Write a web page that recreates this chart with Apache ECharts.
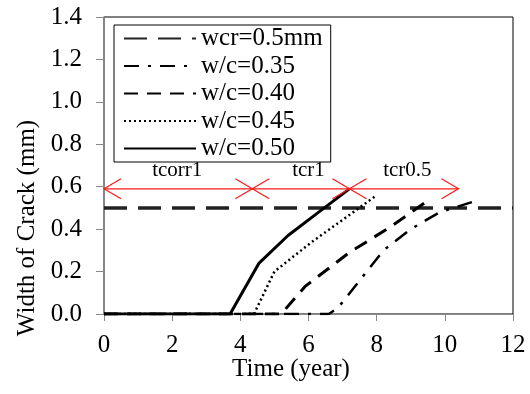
<!DOCTYPE html>
<html>
<head>
<meta charset="utf-8">
<script src="https://cdn.jsdelivr.net/npm/echarts@6/dist/echarts.min.js"></script>
<style>
  html, body { margin: 0; padding: 0; background: #fff; }
  #chart { width: 530px; height: 394px; }
</style>
</head>
<body>
<div id="chart"></div>
<script>
  // crack width curves, [time (year), width (mm)]
  var wcrLine = [[0, 0.5], [12, 0.5]];
  var wc035 = [[0, 0], [6.6, 0], [6.87, 0.03], [8.2, 0.3], [9.0, 0.4], [9.85, 0.48], [10.85, 0.53]];
  var wc040 = [[0, 0], [5.2, 0], [5.9, 0.13], [7.2, 0.29], [8.4, 0.41], [9.55, 0.54]];
  var wc045 = [[0, 0], [4.4, 0], [5.0, 0.2], [6.1, 0.34], [7.4, 0.49], [8.0, 0.56]];
  var wc050 = [[0, 0], [3.7, 0], [4.55, 0.24], [5.4, 0.37], [6.3, 0.48], [7.2, 0.59]];

  // red interval arrows
  var arrowNames = ['tcorr1', 'tcr1', 'tcr0.5'];
  var arrowStart = [0, 4.35, 7.2];
  var arrowEnd = [4.35, 7.2, 10.4];
  var arrowLevel = 0.59;
  var arrowLabelX = [2.15, 6.0, 8.9];

  var yTicks = [0, 0.2, 0.4, 0.6, 0.8, 1.0, 1.2, 1.4];
  var xTicks = [0, 2, 4, 6, 8, 10, 12];

  var font = 'Liberation Serif';

  var arrowData = arrowNames.map(function (n, i) {
    return [arrowStart[i], arrowEnd[i], arrowLevel, arrowLabelX[i]];
  });

  function renderArrow(params, api) {
    var a = api.coord([api.value(0), api.value(2)]);
    var b = api.coord([api.value(1), api.value(2)]);
    var t = api.coord([api.value(3), api.value(2)]);
    var len = 17, half = 10;
    var red = '#ff1a1a';
    return {
      type: 'group',
      children: [
        { type: 'line', shape: { x1: a[0], y1: a[1], x2: b[0], y2: b[1] },
          style: { stroke: red, lineWidth: 1.2 } },
        { type: 'polyline', shape: { points: [[a[0] + len, a[1] - half], [a[0], a[1]], [a[0] + len, a[1] + half]] },
          style: { stroke: red, fill: null, lineWidth: 1.2 } },
        { type: 'polyline', shape: { points: [[b[0] - len, b[1] - half], [b[0], b[1]], [b[0] - len, b[1] + half]] },
          style: { stroke: red, fill: null, lineWidth: 1.2 } },
        { type: 'text', x: t[0], y: t[1] - 18,
          style: { text: arrowNames[params.dataIndex], font: '21px "' + font + '"', fill: '#000',
            textAlign: 'center', textVerticalAlign: 'middle' } }
      ]
    };
  }

  var chart = echarts.init(document.getElementById('chart'));
  chart.setOption({
    animation: false,
    backgroundColor: '#fff',
    grid: {
      left: 104,
      right: 17,
      top: 17,
      bottom: 80,
      show: true,
      borderColor: '#000',
      borderWidth: 1
    },
    xAxis: {
      type: 'value',
      min: xTicks[0],
      max: xTicks[xTicks.length - 1],
      interval: 2,
      axisLine: { lineStyle: { color: '#888', width: 1 } },
      axisTick: { show: true, length: 7, lineStyle: { color: '#888' } },
      axisLabel: { margin: 19, color: '#000', fontFamily: font, fontSize: 25 },
      splitLine: { show: false }
    },
    yAxis: {
      type: 'value',
      min: yTicks[0],
      max: yTicks[yTicks.length - 1],
      interval: 0.2,
      axisLine: { show: true, lineStyle: { color: '#888', width: 1.5 } },
      axisTick: { show: true, length: 8, lineStyle: { color: '#888' } },
      axisLabel: {
        margin: 22, color: '#000', fontFamily: font, fontSize: 25,
        formatter: function (v) { return v.toFixed(1); }
      },
      splitLine: { show: false }
    },
    legend: {
      orient: 'vertical',
      left: 114,
      top: 25,
      padding: [1, 8, 1, 9],
      itemWidth: 72,
      itemHeight: 14,
      itemGap: 2.5,
      backgroundColor: '#fff',
      borderColor: '#000',
      borderWidth: 1,
      z: 10,
      itemStyle: { opacity: 0 },
      textStyle: { fontFamily: font, fontSize: 25, color: '#000', lineHeight: 24 },
      data: ['wcr=0.5mm', 'w/c=0.35', 'w/c=0.40', 'w/c=0.45', 'w/c=0.50']
    },
    graphic: [
      { type: 'text', x: 27, y: 228, rotation: Math.PI / 2,
        style: { text: 'Width of Crack (mm)', font: '25px "' + font + '"', fill: '#000',
          textAlign: 'center', textVerticalAlign: 'middle' } },
      { type: 'text', x: 291, y: 369,
        style: { text: 'Time (year)', font: '25px "' + font + '"', fill: '#000',
          textAlign: 'center', textVerticalAlign: 'middle' } }
    ],
    series: [
      { name: 'wcr=0.5mm', type: 'line', data: wcrLine, symbol: 'none', z: 2,
        lineStyle: { color: '#222', width: 3.5, type: [23, 11] }, itemStyle: { color: '#222' } },
      { name: 'w/c=0.35', type: 'line', data: wc035, symbol: 'none', z: 3,
        lineStyle: { color: '#000', width: 2.5, type: [15, 9, 3, 9] }, itemStyle: { color: '#000' } },
      { name: 'w/c=0.40', type: 'line', data: wc040, symbol: 'none', z: 3,
        lineStyle: { color: '#000', width: 3, type: [14, 9] }, itemStyle: { color: '#000' } },
      { name: 'w/c=0.45', type: 'line', data: wc045, symbol: 'none', z: 3,
        lineStyle: { color: '#000', width: 2.5, type: [2, 3] }, itemStyle: { color: '#000' } },
      { name: 'w/c=0.50', type: 'line', data: wc050, symbol: 'none', z: 4,
        lineStyle: { color: '#000', width: 3, type: 'solid' }, itemStyle: { color: '#000' } },
      { name: 'arrows', type: 'custom', renderItem: renderArrow, data: arrowData, z: 5,
        silent: true }
    ]
  });
</script>
</body>
</html>
